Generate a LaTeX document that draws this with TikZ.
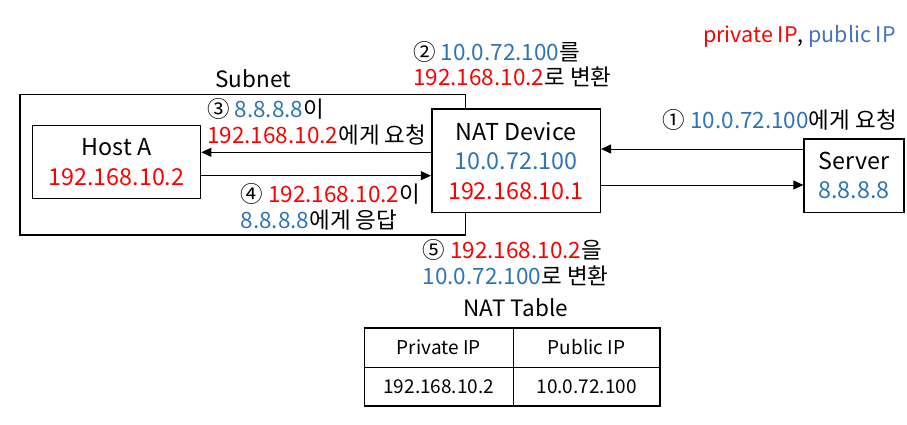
\documentclass[tikz,border=0pt]{standalone}
\usepackage{fontspec}
\setmainfont{Noto Sans CJK KR}
\usepackage{tikz}
\usetikzlibrary{arrows.meta,positioning,calc}
\definecolor{pvtred}{RGB}{255,0,0}
\definecolor{pubblue}{RGB}{46,117,182}
\definecolor{legblue}{RGB}{68,114,196}
\newcommand{\pvt}[1]{\textcolor{pvtred}{#1}}
\newcommand{\pub}[1]{\textcolor{pubblue}{#1}}
\tikzset{
    box/.style={draw, line width=1.6pt, align=center, inner sep=0pt, font=\fontsize{23.3}{29.5}\selectfont},
    lbl/.style={align=left, inner sep=0pt, font=\fontsize{22.5}{25.5}\selectfont},
    arr/.style={line width=1pt, -{Triangle[length=10pt,width=9pt]}},
    cell/.style={draw, line width=1.3pt, inner sep=0pt, outer sep=0pt, font=\fontsize{19}{23}\selectfont}
}

\begin{document}
\begin{tikzpicture}[x=1pt,y=-1pt]
\useasboundingbox (0,0) rectangle (907,425);
%Subnet
\node[draw, line width=1.6pt, minimum width=445.5pt, minimum height=140.5pt, inner sep=0pt] (subnet) at (242.75,164.75) {};
\node[lbl] (subnetlbl) at (253,79) {Subnet};
%Boxes
\node[box, minimum width=168pt, minimum height=72.6pt] (host) at (116.5,162) {Host A\\\pvt{192.168.10.2}};
\node[box, fill=white, minimum width=168.6pt, minimum height=103.3pt] (nat) at (516,160.7) {NAT Device\\\pub{10.0.72.100}\\\pvt{192.168.10.1}};
\node[box, minimum width=99.7pt, minimum height=73.3pt] (server) at (854,175.7) {Server\\\pub{8.8.8.8}};
%Connectors
\draw[arr] ([yshift=11.7pt]nat.east -| server.west) -- ([yshift=11.7pt]nat.east);
\draw[arr] ([yshift=-24.3pt]nat.east) -- ([yshift=-24.3pt]nat.east -| server.west);
\draw[arr] ([yshift=9.7pt]host.east -| nat.west) -- ([yshift=9.7pt]host.east);
\draw[arr] ([yshift=-13.7pt]host.east) -- ([yshift=-13.7pt]host.east -| nat.west);
%Step labels
\node[lbl, anchor=east] (step1) at (897,120) {① \pub{10.0.72.100}에게 요청};
\node[lbl, anchor=west] (step2) at (413,64.2) {② \pub{10.0.72.100}를\\\pvt{192.168.10.2}로 변환};
\node[lbl, anchor=west] (step3) at (207,122) {③ \pub{8.8.8.8}이\\\pvt{192.168.10.2}에게 요청};
\node[lbl, anchor=west] (step4) at (240.5,206.7) {④ \pvt{192.168.10.2}이\\\pub{8.8.8.8}에게 응답};
\node[lbl, anchor=west] (step5) at (422.5,262.5) {⑤ \pvt{192.168.10.2}을\\\pub{10.0.72.100}로 변환};
%Legend
\node[lbl, anchor=east, font=\fontsize{21.5}{25}\selectfont] (legend) at (896,36.7) {\textcolor{pvtred}{private IP}, \textcolor{legblue}{public IP}};
%NAT table
\node[lbl] (tabletitle) at (515.8,308) {NAT Table};
\node[cell, minimum width=149pt, minimum height=39.3pt] (privhead) at (438.8,347.5) {Private IP};
\node[cell, minimum width=146.7pt, minimum height=39.3pt] (pubhead) at (586.65,347.5) {Public IP};
\node[cell, minimum width=149pt, minimum height=38.7pt] (privval) at (438.8,386.5) {192.168.10.2};
\node[cell, minimum width=146.7pt, minimum height=38.7pt] (pubval) at (586.65,386.5) {10.0.72.100};
\end{tikzpicture}
\end{document}
